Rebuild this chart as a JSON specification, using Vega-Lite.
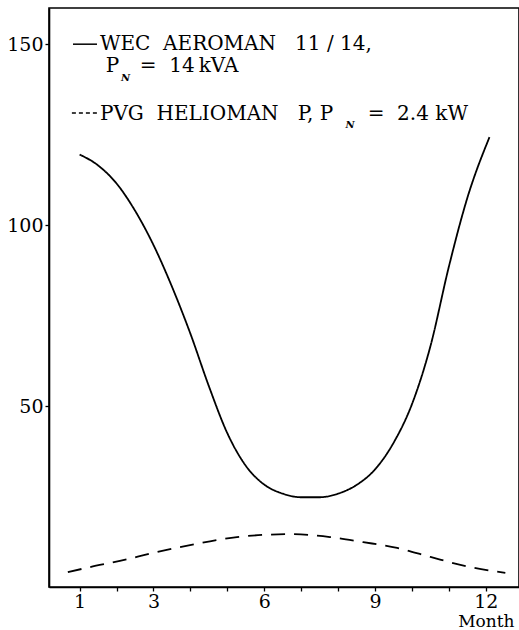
{
  "$schema": "https://vega.github.io/schema/vega-lite/v6.json",
  "width": 470,
  "height": 579,
  "autosize": "none",
  "padding": {"left": 49, "top": 8, "right": 0, "bottom": 43},
  "background": "white",
  "config": {
    "view": {"stroke": "black", "strokeWidth": 1.6},
    "font": "DejaVu Serif"
  },
  "datasets": {
    "curves": [
      {"month": 1.0, "value": 119.5, "series": "WEC"},
      {"month": 1.5, "value": 116.5, "series": "WEC"},
      {"month": 2.0, "value": 111.5, "series": "WEC"},
      {"month": 2.5, "value": 104, "series": "WEC"},
      {"month": 3.0, "value": 94.5, "series": "WEC"},
      {"month": 3.5, "value": 83, "series": "WEC"},
      {"month": 4.0, "value": 70, "series": "WEC"},
      {"month": 4.5, "value": 55.5, "series": "WEC"},
      {"month": 5.0, "value": 42.5, "series": "WEC"},
      {"month": 5.5, "value": 33.5, "series": "WEC"},
      {"month": 6.0, "value": 28.3, "series": "WEC"},
      {"month": 6.5, "value": 25.8, "series": "WEC"},
      {"month": 7.0, "value": 24.8, "series": "WEC"},
      {"month": 7.5, "value": 24.8, "series": "WEC"},
      {"month": 8.0, "value": 25.8, "series": "WEC"},
      {"month": 8.5, "value": 28.2, "series": "WEC"},
      {"month": 9.0, "value": 32.5, "series": "WEC"},
      {"month": 9.5, "value": 39.8, "series": "WEC"},
      {"month": 10.0, "value": 50.5, "series": "WEC"},
      {"month": 10.5, "value": 66.5, "series": "WEC"},
      {"month": 11.0, "value": 88.5, "series": "WEC"},
      {"month": 11.5, "value": 107.5, "series": "WEC"},
      {"month": 12.1, "value": 124.3, "series": "WEC"},
      {"month": 0.68, "value": 4.1, "series": "PVG"},
      {"month": 1.28, "value": 5.5, "series": "PVG"},
      {"month": 2.09, "value": 7.2, "series": "PVG"},
      {"month": 2.99, "value": 9.4, "series": "PVG"},
      {"month": 3.99, "value": 11.6, "series": "PVG"},
      {"month": 5.26, "value": 13.8, "series": "PVG"},
      {"month": 6.7, "value": 14.6, "series": "PVG"},
      {"month": 7.78, "value": 13.8, "series": "PVG"},
      {"month": 8.68, "value": 12.4, "series": "PVG"},
      {"month": 9.6, "value": 10.8, "series": "PVG"},
      {"month": 10.5, "value": 8.3, "series": "PVG"},
      {"month": 11.58, "value": 5.5, "series": "PVG"},
      {"month": 12.53, "value": 3.9, "series": "PVG"}
    ]
  },
  "layer": [
    {
      "data": {"name": "curves"},
      "mark": {"type": "line", "interpolate": "monotone", "color": "black", "strokeWidth": 1.8},
      "encoding": {
        "x": {
          "field": "month", "type": "quantitative",
          "scale": {"domain": [0.17, 12.9], "nice": false, "zero": false},
          "axis": {
            "values": [1, 2, 3, 4, 5, 6, 7, 8, 9, 10, 11, 12],
            "labelExpr": "indexof([1,3,6,9,12], datum.value) >= 0 ? datum.label : ''",
            "grid": false, "domainColor": "black", "domainWidth": 1.6,
            "tickColor": "black", "tickSize": 4, "tickWidth": 1.3,
            "labelFont": "DejaVu Serif", "labelFontSize": 19, "labelColor": "black",
            "labelPadding": 1, "labelFlush": false,
            "title": "Month", "titleFont": "DejaVu Serif", "titleFontSize": 17,
            "titleFontWeight": "normal", "titleColor": "black",
            "titleAnchor": "end", "titleAlign": "right", "titleBaseline": "alphabetic",
            "titleX": 465, "titleY": 39
          }
        },
        "y": {
          "field": "value", "type": "quantitative",
          "scale": {"domain": [0, 160], "nice": false},
          "axis": {
            "values": [50, 100, 150],
            "grid": false, "domainColor": "black", "domainWidth": 1.6,
            "tickColor": "black", "tickSize": 4, "tickWidth": 1.3,
            "labelFont": "DejaVu Serif", "labelFontSize": 19, "labelColor": "black",
            "labelPadding": 2, "title": null
          }
        },
        "strokeDash": {
          "field": "series", "type": "nominal",
          "scale": {"domain": ["WEC", "PVG"], "range": [[1, 0], [14, 9]]},
          "legend": null
        }
      }
    },
    {
      "data": {"values": [{}]},
      "mark": {"type": "rule", "color": "black", "strokeWidth": 1.5},
      "encoding": {"x": {"datum": 0.82}, "x2": {"datum": 1.47}, "y": {"datum": 150.0}}
    },
    {
      "data": {"values": [{}]},
      "mark": {"type": "rule", "color": "black", "strokeWidth": 1.5, "strokeDash": [4, 3]},
      "encoding": {"x": {"datum": 0.79}, "x2": {"datum": 1.47}, "y": {"datum": 131.0}}
    },
    {
      "data": {"values": [{}]},
      "mark": {"type": "text", "align": "left", "baseline": "alphabetic", "font": "DejaVu Serif", "fontSize": 20, "color": "black"},
      "encoding": {"x": {"datum": 1.55}, "y": {"datum": 148.4}, "text": {"value": "WEC\u00a0\u00a0AEROMAN\u00a0\u00a0\u00a011 / 14,"}}
    },
    {
      "data": {"values": [{}]},
      "mark": {"type": "text", "align": "left", "baseline": "alphabetic", "font": "DejaVu Serif", "fontSize": 20, "color": "black"},
      "encoding": {"x": {"datum": 1.71}, "y": {"datum": 142.3}, "text": {"value": "P"}}
    },
    {
      "data": {"values": [{}]},
      "mark": {"type": "text", "align": "left", "baseline": "alphabetic", "font": "DejaVu Serif", "fontSize": 10, "fontStyle": "italic", "fontWeight": "bold", "color": "black"},
      "encoding": {"x": {"datum": 2.12}, "y": {"datum": 139.8}, "text": {"value": "N"}}
    },
    {
      "data": {"values": [{}]},
      "mark": {"type": "text", "align": "left", "baseline": "alphabetic", "font": "DejaVu Serif", "fontSize": 20, "color": "black"},
      "encoding": {"x": {"datum": 2.63}, "y": {"datum": 142.3}, "text": {"value": "=\u00a0\u00a014\u2009kVA"}}
    },
    {
      "data": {"values": [{}]},
      "mark": {"type": "text", "align": "left", "baseline": "alphabetic", "font": "DejaVu Serif", "fontSize": 20, "color": "black"},
      "encoding": {"x": {"datum": 1.55}, "y": {"datum": 129.0}, "text": {"value": "PVG\u00a0\u00a0HELIOMAN\u00a0\u00a0\u00a0P, P"}}
    },
    {
      "data": {"values": [{}]},
      "mark": {"type": "text", "align": "left", "baseline": "alphabetic", "font": "DejaVu Serif", "fontSize": 10, "fontStyle": "italic", "fontWeight": "bold", "color": "black"},
      "encoding": {"x": {"datum": 8.2}, "y": {"datum": 126.8}, "text": {"value": "N"}}
    },
    {
      "data": {"values": [{}]},
      "mark": {"type": "text", "align": "left", "baseline": "alphabetic", "font": "DejaVu Serif", "fontSize": 20, "color": "black"},
      "encoding": {"x": {"datum": 8.8}, "y": {"datum": 129.0}, "text": {"value": "=\u00a0\u00a02.4 kW"}}
    }
  ]
}
